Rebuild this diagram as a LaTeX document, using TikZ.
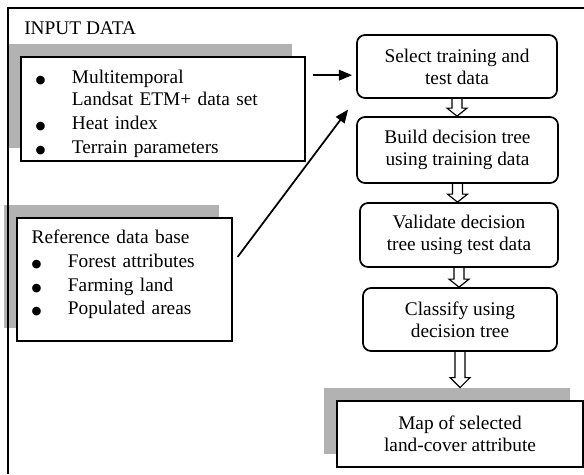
\documentclass[tikz,border=0pt]{standalone}
\usepackage{fontspec}
\setmainfont{Liberation Serif}
\newfontfamily\bulfont{DejaVu Sans}
\usetikzlibrary{arrows.meta,calc,shadows}

\newcommand\bul{\makebox[27.2pt][l]{\bulfont\fontsize{8.5}{8.5}\selectfont ●}}
% hollow block arrow: from, to, head length
\newcommand\hollowarrow[3]{%
  \draw[hollow] let \p1=(#1), \p2=(#2) in
    (\x1-3.75pt,\y1) -- (\x1-3.75pt,\y2+#3) -- (\x1-7.5pt,\y2+#3) -- (\x1,\y2)
    -- (\x1+7.5pt,\y2+#3) -- (\x1+3.75pt,\y2+#3) -- (\x1+3.75pt,\y1);}

\tikzset{
  boxfont/.style={font=\fontsize{14.5}{16.5}\selectfont},
  shadowed/.style={drop shadow={shadow xshift=-9.4pt, shadow yshift=9.4pt,
      fill=black!30, opacity=1}},
  inbox/.style={draw, boxfont, shadowed, fill=white, line width=1.3pt,
    inner xsep=11pt, inner ysep=0pt, align=left},
  outbox/.style={draw, boxfont, shadowed, fill=white, line width=1.3pt,
    inner sep=0pt, align=center},
  stepbox/.style={draw, boxfont, rounded corners=6pt, line width=1.3pt,
    inner sep=0pt, align=center},
  arr/.style={line width=1.3pt, -{Triangle[length=10pt,width=8pt]}},
  hollow/.style={line width=0.9pt},
  frame/.style={line width=1.2pt},
}

\begin{document}
\begin{tikzpicture}[x=0.75pt, y=-0.75pt]
  \useasboundingbox (0,0) rectangle (584,474);

  % input side
  \node [boxfont, anchor=base west, inner sep=0pt] (title) at (24,34.3) {INPUT DATA};
  \node [inbox, text width=191pt, minimum width=213pt, minimum height=78pt] (inp) at (163,109)
    {\rule{0pt}{18pt}\bul Multitemporal\\
     \hspace*{27.2pt}Landsat ETM+ data set\\[1.5pt]
     \bul Heat index\\[1.5pt]
     \bul Terrain parameters};
  \node [inbox, text width=139.25pt, minimum width=161.25pt, minimum height=92.25pt] (ref) at (124.5,279.5)
    {Reference data base\\[1.3pt]
     \bul Forest attributes\\[1.3pt]
     \bul Farming land\\[1.3pt]
     \bul Populated areas\rule[-10.5pt]{0pt}{10.5pt}};

  % processing steps
  \node [stepbox, minimum width=150pt, minimum height=47.25pt] (sel) at (457,66.5)
    {Select training and\\test data};
  \node [stepbox, minimum width=150.75pt, minimum height=49.5pt] (build) at (457.5,150)
    {Build decision tree\\using training data};
  \node [stepbox, minimum width=148.5pt, minimum height=48pt] (valid) at (459,235)
    {Validate decision\\tree using test data};
  \node [stepbox, minimum width=145.5pt, minimum height=47.25pt] (cls) at (460,319.5)
    {Classify using\\decision tree};
  \node [outbox, minimum width=184.5pt, minimum height=49.5pt] (map) at (460,434)
    {Map of selected\\land-cover attribute};
  \coordinate (mapshadow) at ([yshift=9.4pt]map.north);

  % connectors
  \coordinate (inpout) at ($(inp.north east)!.18!(inp.south east)$);
  \draw [arr, shorten <=5.25pt, shorten >=3pt] (inpout) -- (inpout -| sel.west);
  \coordinate (refout) at ($(ref.north east)!.37!(ref.south east)$);
  \draw [arr, shorten <=6pt, shorten >=10pt] (refout) -- (sel.south west);

  \hollowarrow{sel.south}{build.north}{6pt}
  \hollowarrow{build.south}{valid.north}{6pt}
  \hollowarrow{valid.south}{cls.north}{6pt}
  \hollowarrow{cls.south}{mapshadow}{7.5pt}

  \draw [frame] (8,474) -- (8,8) -- (584,8);
\end{tikzpicture}
\end{document}
